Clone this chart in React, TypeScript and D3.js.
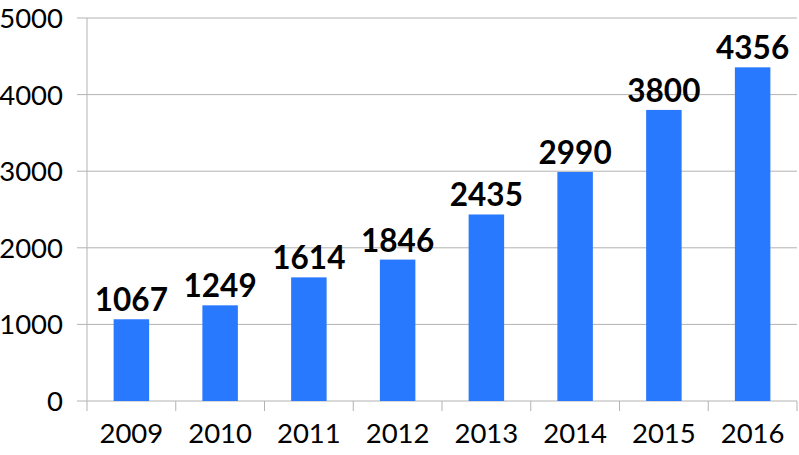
import React, { useEffect, useRef } from "react";
import * as d3 from "d3";

const years = ["2009", "2010", "2011", "2012", "2013", "2014", "2015", "2016"];
const counts = [1067, 1249, 1614, 1846, 2435, 2990, 3800, 4356];
const yTicks = [0, 1000, 2000, 3000, 4000, 5000];

const width = 799;
const height = 455;
const margin = { top: 18, right: 2, bottom: 54, left: 87 };

export default function App() {
  const ref = useRef<SVGSVGElement>(null);

  useEffect(() => {
    const svg = d3.select(ref.current);
    svg.selectAll("*").remove();

    const innerW = width - margin.left - margin.right;
    const innerH = height - margin.top - margin.bottom;

    const x = d3.scaleBand().domain(years).range([0, innerW]).paddingInner(0.6).paddingOuter(0.3);
    const y = d3.scaleLinear().domain([0, 5000]).range([innerH, 0]);

    const g = svg.append("g").attr("transform", `translate(${margin.left},${margin.top})`);

    // grid lines
    g.append("g")
      .selectAll("line")
      .data(yTicks)
      .enter()
      .append("line")
      .attr("x1", -10)
      .attr("x2", innerW)
      .attr("y1", (d) => y(d))
      .attr("y2", (d) => y(d))
      .attr("stroke", "#b3b3b3")
      .attr("stroke-width", 1);

    // y labels
    g.append("g")
      .selectAll("text")
      .data(yTicks)
      .enter()
      .append("text")
      .attr("x", -24)
      .attr("y", (d) => y(d))
      .attr("dy", "0.36em")
      .attr("text-anchor", "end")
      .style("font-family", "Lato, sans-serif")
      .style("font-size", "27.5px")
      .attr("fill", "#000")
      .text((d) => d);

    // y axis line
    g.append("line")
      .attr("x1", 0)
      .attr("x2", 0)
      .attr("y1", 0)
      .attr("y2", innerH)
      .attr("stroke", "#b3b3b3");

    // x tick marks at category boundaries
    g.append("g")
      .selectAll("line")
      .data(d3.range(years.length + 1))
      .enter()
      .append("line")
      .attr("x1", (i) => i * (innerW / years.length))
      .attr("x2", (i) => i * (innerW / years.length))
      .attr("y1", innerH)
      .attr("y2", innerH + 10)
      .attr("stroke", "#b3b3b3");

    // bars
    g.append("g")
      .selectAll("rect")
      .data(counts)
      .enter()
      .append("rect")
      .attr("x", (d, i) => x(years[i])!)
      .attr("y", (d) => y(d))
      .attr("width", x.bandwidth())
      .attr("height", (d) => innerH - y(d))
      .attr("fill", "#2979ff");

    // value labels
    g.append("g")
      .selectAll("text")
      .data(counts)
      .enter()
      .append("text")
      .attr("x", (d, i) => x(years[i])! + x.bandwidth() / 2)
      .attr("y", (d) => y(d) - 8)
      .attr("text-anchor", "middle")
      .style("font-family", "Lato, sans-serif")
      .style("font-weight", "bold")
      .style("font-size", "31.5px")
      .attr("fill", "#000")
      .text((d) => d);

    // x labels
    g.append("g")
      .selectAll("text")
      .data(years)
      .enter()
      .append("text")
      .attr("x", (d) => x(d)! + x.bandwidth() / 2)
      .attr("y", innerH + 42)
      .attr("text-anchor", "middle")
      .style("font-family", "Lato, sans-serif")
      .style("font-size", "27.5px")
      .attr("fill", "#000")
      .text((d) => d);
  }, []);

  return (
    <svg
      ref={ref}
      width={width}
      height={height}
      style={{ position: "absolute", left: 0, top: 0, background: "#fff" }}
    />
  );
}
